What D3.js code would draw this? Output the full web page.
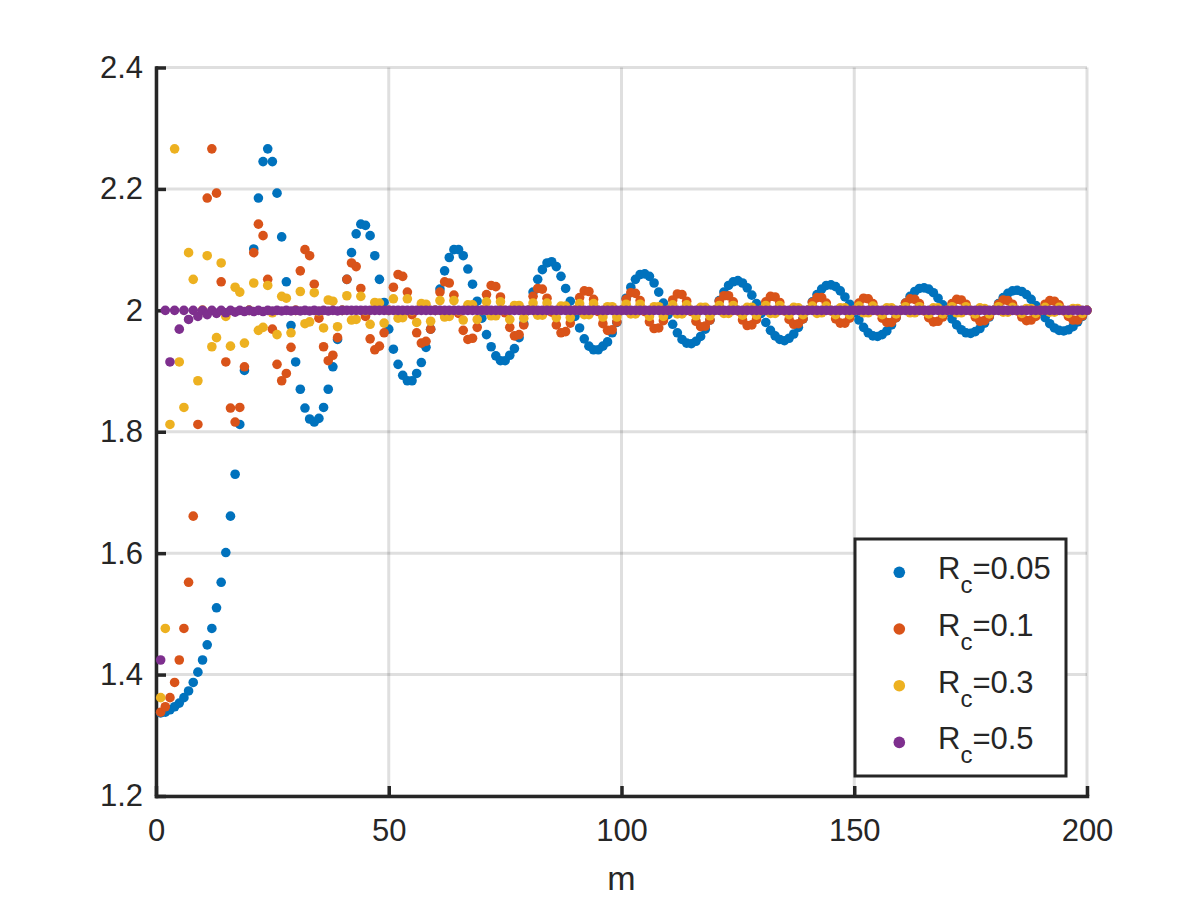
<!DOCTYPE html>
<html>
<head>
<meta charset="utf-8">
<script src="https://cdn.jsdelivr.net/npm/d3@7"></script>
<style>
  body { margin: 0; background: #fff; }
  text { font-family: "Liberation Sans", Arial, Helvetica, sans-serif; fill: #262626; }
</style>
</head>
<body>
<div id="chart"></div>
<script>
// values, m = 1..200
const rc005 = [
  1.337,1.338,1.342,1.347,1.353,1.362,1.373,1.387,1.404,1.424,
  1.449,1.476,1.510,1.552,1.601,1.661,1.730,1.812,1.901,2.000,
  2.101,2.185,2.245,2.266,2.245,2.193,2.121,2.047,1.975,1.915,
  1.870,1.839,1.821,1.816,1.822,1.840,1.870,1.907,1.952,2.000,
  2.051,2.095,2.126,2.142,2.140,2.123,2.090,2.051,2.013,1.969,
  1.936,1.911,1.893,1.884,1.884,1.896,1.914,1.939,1.969,2.000,
  2.035,2.065,2.087,2.100,2.100,2.090,2.068,2.043,2.015,1.987,
  1.960,1.940,1.925,1.917,1.917,1.926,1.937,1.955,1.978,2.000,
  2.030,2.051,2.067,2.078,2.080,2.072,2.056,2.036,2.015,1.990,
  1.971,1.953,1.941,1.935,1.935,1.941,1.948,1.963,1.980,2.000,
  2.020,2.038,2.051,2.059,2.060,2.056,2.045,2.030,2.012,1.993,
  1.977,1.963,1.952,1.946,1.945,1.949,1.957,1.969,1.984,2.000,
  2.016,2.030,2.041,2.047,2.049,2.045,2.037,2.025,2.011,1.995,
  1.980,1.967,1.958,1.952,1.950,1.954,1.961,1.972,1.986,2.000,
  2.014,2.026,2.035,2.041,2.042,2.039,2.032,2.022,2.010,1.996,
  1.984,1.972,1.963,1.958,1.957,1.960,1.966,1.976,1.988,2.000,
  2.012,2.023,2.031,2.036,2.037,2.035,2.029,2.020,2.009,1.997,
  1.986,1.976,1.968,1.963,1.962,1.965,1.970,1.979,1.989,2.000,
  2.011,2.021,2.028,2.032,2.033,2.031,2.026,2.018,2.008,1.998,
  1.988,1.978,1.971,1.967,1.966,1.968,1.973,1.981,1.990,2.000
]

const rc01 = [
  1.338,1.347,1.362,1.387,1.424,1.476,1.552,1.661,1.812,2.000,
  2.185,2.266,2.193,2.047,1.915,1.839,1.816,1.840,1.907,2.000,
  2.095,2.142,2.123,2.051,1.969,1.911,1.884,1.896,1.939,2.000,
  2.065,2.100,2.090,2.043,1.987,1.940,1.917,1.926,1.955,2.000,
  2.051,2.078,2.072,2.036,1.990,1.953,1.935,1.941,1.963,2.000,
  2.038,2.059,2.056,2.030,1.993,1.963,1.946,1.949,1.969,2.000,
  2.030,2.047,2.045,2.025,1.995,1.967,1.952,1.954,1.972,2.000,
  2.026,2.041,2.039,2.022,1.996,1.972,1.958,1.960,1.976,2.000,
  2.023,2.036,2.035,2.020,1.997,1.976,1.963,1.965,1.979,2.000,
  2.021,2.032,2.031,2.018,1.998,1.978,1.967,1.968,1.981,2.000,
  2.018,2.029,2.028,2.016,1.998,1.981,1.970,1.971,1.983,2.000,
  2.017,2.027,2.026,2.015,1.998,1.982,1.973,1.974,1.984,2.000,
  2.015,2.024,2.024,2.014,1.999,1.984,1.975,1.976,1.985,2.000,
  2.014,2.023,2.022,2.013,1.999,1.985,1.977,1.978,1.986,2.000,
  2.013,2.021,2.021,2.012,1.999,1.986,1.979,1.979,1.987,2.000,
  2.012,2.020,2.019,2.011,1.999,1.987,1.980,1.980,1.988,2.000,
  2.012,2.019,2.018,2.011,1.999,1.988,1.981,1.982,1.989,2.000,
  2.011,2.018,2.017,2.010,1.999,1.989,1.982,1.983,1.990,2.000,
  2.010,2.017,2.016,2.010,1.999,1.989,1.983,1.984,1.990,2.000,
  2.010,2.016,2.015,2.009,1.999,1.990,1.984,1.984,1.991,2.000
]

const rc03 = [
  1.362,1.476,1.812,2.266,1.915,1.840,2.095,2.051,1.884,2.000,
  2.090,1.940,1.955,2.078,1.990,1.941,2.038,2.030,1.946,2.000,
  2.045,1.967,1.972,2.041,1.996,1.960,2.023,2.020,1.963,2.000,
  2.031,1.978,1.981,2.029,1.998,1.971,2.017,2.015,1.973,2.000,
  2.024,1.984,1.985,2.023,1.999,1.977,2.013,2.012,1.979,2.000,
  2.019,1.987,1.988,2.019,1.999,1.980,2.011,2.010,1.982,2.000,
  2.016,1.989,1.990,2.016,1.999,1.984,2.009,2.009,1.985,2.000,
  2.014,1.991,1.991,2.014,2.000,1.985,2.008,2.008,1.987,2.000,
  2.012,1.992,1.992,2.012,2.000,1.988,2.007,2.007,1.988,2.000,
  2.011,1.993,1.993,2.011,2.000,1.989,2.006,2.006,1.989,2.000,
  2.010,1.994,1.994,2.010,2.000,1.990,2.006,2.006,1.990,2.000,
  2.009,1.994,1.994,2.009,2.000,1.991,2.005,2.005,1.991,2.000,
  2.008,1.995,1.995,2.008,2.000,1.992,2.005,2.005,1.992,2.000,
  2.008,1.995,1.995,2.008,2.000,1.993,2.005,2.004,1.993,2.000,
  2.007,1.995,1.996,2.007,2.000,1.993,2.004,2.004,1.993,2.000,
  2.007,1.996,1.996,2.007,2.000,1.993,2.004,2.004,1.994,2.000,
  2.006,1.996,1.996,2.006,2.000,1.994,2.004,2.004,1.994,2.000,
  2.006,1.996,1.996,2.006,2.000,1.994,2.004,2.003,1.994,2.000,
  2.006,1.997,1.997,2.005,2.000,1.995,2.003,2.003,1.995,2.000,
  2.005,1.997,1.997,2.005,2.000,1.995,2.003,2.003,1.995,2.000
]

const rc05 = [
  1.424,2,1.915,2,1.969,2,1.985,2,1.990,2,
  1.993,2,1.995,2,1.996,2,1.997,2,1.998,2,
  1.998,2,1.998,2,1.999,2,1.999,2,1.999,2,
  1.999,2,1.999,2,1.999,2,1.999,2,1.999,2,
  2,2,2,2,2,2,2,2,2,2, 2,2,2,2,2,2,2,2,2,2,
  2,2,2,2,2,2,2,2,2,2, 2,2,2,2,2,2,2,2,2,2,
  2,2,2,2,2,2,2,2,2,2, 2,2,2,2,2,2,2,2,2,2,
  2,2,2,2,2,2,2,2,2,2, 2,2,2,2,2,2,2,2,2,2,
  2,2,2,2,2,2,2,2,2,2, 2,2,2,2,2,2,2,2,2,2,
  2,2,2,2,2,2,2,2,2,2, 2,2,2,2,2,2,2,2,2,2,
  2,2,2,2,2,2,2,2,2,2, 2,2,2,2,2,2,2,2,2,2,
  2,2,2,2,2,2,2,2,2,2, 2,2,2,2,2,2,2,2,2,2
]

const series = [rc005, rc01, rc03, rc05]
const legendValues = ['0.05', '0.1', '0.3', '0.5']
const colors = ['#0072BD', '#D95319', '#EDB120', '#7E2F8E']
const xTicks = [0, 50, 100, 150, 200]
const yTicks = [1.2, 1.4, 1.6, 1.8, 2, 2.2, 2.4]

const width = 1200,
  height = 900

let svg = d3.select('#chart')
  .append('svg')
  .attr('width', width)
  .attr('height', height)

let x = d3.scaleLinear().domain([0, 200]).range([156, 1087])
let y = d3.scaleLinear().domain([1.2, 2.4]).range([796, 67.5])

// grid
let grid = svg.append('g')
grid.selectAll('.vg')
  .data(xTicks)
  .enter()
  .append('line')
    .attr('x1', d => x(d)).attr('x2', d => x(d))
    .attr('y1', y(1.2)).attr('y2', y(2.4))
grid.selectAll('.hg')
  .data(yTicks)
  .enter()
  .append('line')
    .attr('x1', x(0)).attr('x2', x(200))
    .attr('y1', d => y(d)).attr('y2', d => y(d))
grid.selectAll('line')
  .attr('stroke', '#262626')
  .attr('stroke-opacity', 0.15)
  .attr('stroke-width', 3)

// axes
let yAxis = d3.axisLeft(y)
  .tickValues(yTicks)
  .tickSizeInner(-10)
  .tickSizeOuter(0)
  .tickPadding(13)
  .tickFormat(d3.format('~g'))
let xAxis = d3.axisBottom(x)
  .tickValues(xTicks)
  .tickSizeInner(-10)
  .tickSizeOuter(0)
  .tickPadding(23)

let gy = svg.append('g').attr('transform', 'translate(' + x(0) + ',0)').call(yAxis)
let gx = svg.append('g').attr('transform', 'translate(0,' + y(1.2) + ')').call(xAxis)

;[gx, gy].forEach(g => {
  g.attr('font-size', 31)
    .attr('font-family', '"Liberation Sans", Arial, Helvetica, sans-serif')
    .attr('color', '#262626')
  g.select('.domain').attr('stroke-width', 3.5).attr('stroke-linecap', 'square')
  g.selectAll('.tick line').attr('stroke-width', 3.5)
})

// points
series.forEach((vals, i) => {
  svg.append('g')
    .selectAll('circle')
    .data(vals)
    .enter()
    .append('circle')
      .attr('cx', (d, j) => x(j + 1))
      .attr('cy', d => y(d))
      .attr('r', 4.8)
      .attr('fill', colors[i])
})

// x label
svg.append('text')
  .attr('x', (x(0) + x(200)) / 2)
  .attr('y', 890)
  .attr('text-anchor', 'middle')
  .attr('font-size', 34)
  .text('m')

// legend
let legend = svg.append('g')
legend.append('rect')
  .attr('x', 855).attr('y', 539)
  .attr('width', 211).attr('height', 237)
  .attr('fill', '#fff')
  .attr('stroke', '#262626')
  .attr('stroke-width', 3)

legendValues.forEach((v, i) => {
  let cy = 572.3 + i * 56.7
  legend.append('circle')
    .attr('cx', 899.3).attr('cy', cy)
    .attr('r', 5.8)
    .attr('fill', colors[i])
  let t = legend.append('text')
    .attr('x', 938).attr('y', cy + 7)
    .attr('font-size', 31)
  t.append('tspan').text('R')
  t.append('tspan').attr('font-size', 24).attr('dy', 14).text('c')
  t.append('tspan').attr('dy', -14).text('=' + v)
})
</script>
</body>
</html>
